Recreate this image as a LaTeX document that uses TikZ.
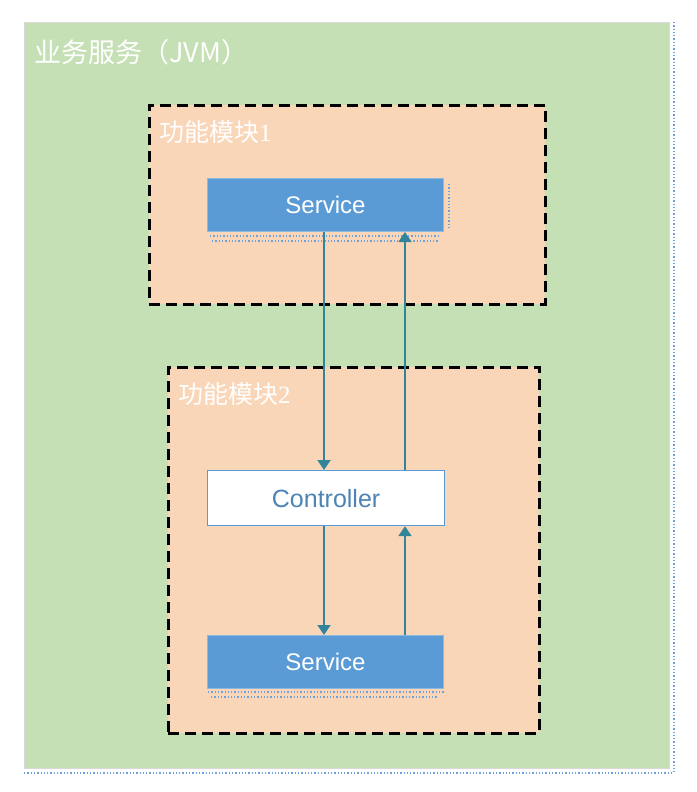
\documentclass[tikz,border=0pt]{standalone}
\usepackage{fontspec}
\setmainfont{Liberation Sans}
\newfontfamily\cjk{Noto Sans CJK SC}
\newfontfamily\serifnum{Liberation Serif}
\usetikzlibrary{arrows.meta}
\definecolor{jvmgreen}{RGB}{197,224,180}
\definecolor{modorange}{RGB}{250,214,185}
\definecolor{svcblue}{RGB}{91,155,213}
\definecolor{arrowteal}{RGB}{49,133,155}
\definecolor{dotblue}{RGB}{110,160,220}
\tikzset{
  x=1pt, y=-1pt,
  modbox/.style={draw=black, line width=2.6pt, dash pattern=on 11pt off 6pt, fill=modorange},
  svcbox/.style={draw=svcblue!70!white, line width=1pt, fill=svcblue, text=white, font=\fontsize{24}{27}\selectfont},
  ctrlbox/.style={draw=svcblue, line width=1.2pt, fill=white, text=svcblue!85!black, font=\fontsize{25}{28}\selectfont},
  flow/.style={draw=arrowteal, line width=1.9pt, -{Triangle[width=13pt,length=10pt]}},
  shadowdots/.style={draw=dotblue, line width=1.3pt, dash pattern=on 1.3pt off 2pt},
  lbl/.style={text=white, anchor=west, inner sep=0pt}
}
\begin{document}
\begin{tikzpicture}
\useasboundingbox (0,0) rectangle (696,792);
\fill[white] (0,0) rectangle (696,792);
% outer JVM box
\node[draw=black!15, line width=1pt, fill=jvmgreen, minimum width=645pt, minimum height=746pt, anchor=north west, inner sep=0pt] (jvm) at (24,22) {};
\draw[shadowdots] (jvm.south west) ++(0,4) -- ++(650,0);
\draw[shadowdots] (jvm.north east) ++(4,0) -- ++(0,750);
\node[lbl, font=\cjk\fontsize{27}{30}\selectfont] (jvmlbl) at (34,52) {业务服务（JVM）};
% modules
\node[modbox, minimum width=396pt, minimum height=199pt, anchor=north west, inner sep=0pt] (mod1) at (148,104) {};
\node[lbl, font=\cjk\fontsize{25}{28}\selectfont] (mod1lbl) at (159,132) {功能模块{\serifnum 1}};
\node[modbox, minimum width=371pt, minimum height=366pt, anchor=north west, inner sep=0pt] (mod2) at (167,366) {};
\node[lbl, font=\cjk\fontsize{25}{28}\selectfont] (mod2lbl) at (178,394) {功能模块{\serifnum 2}};
% boxes
\node[svcbox, minimum width=236pt, minimum height=53pt, anchor=north west, inner sep=0pt] (svc1) at (207,178) {Service};
\draw[shadowdots] (210,236) -- (440,236);
\draw[shadowdots] (212,241) -- (438,241);
\draw[shadowdots] (449,184) -- (449,230);
\node[ctrlbox, minimum width=237pt, minimum height=55pt, anchor=north west, inner sep=0pt] (ctrl) at (207,470) {Controller};
\node[svcbox, minimum width=236pt, minimum height=53pt, anchor=north west, inner sep=0pt] (svc2) at (207,635) {Service};
\draw[shadowdots] (208,692) -- (444,692);
\draw[shadowdots] (211,697) -- (438,697);
% connectors
\coordinate (a1) at (324,0);
\coordinate (a2) at (405,0);
\draw[flow] (svc1.south -| a1) -- (ctrl.north -| a1);
\draw[flow] (ctrl.north -| a2) -- (svc1.south -| a2);
\draw[flow] (ctrl.south -| a1) -- (svc2.north -| a1);
\draw[flow] (svc2.north -| a2) -- (ctrl.south -| a2);
\end{tikzpicture}
\end{document}
